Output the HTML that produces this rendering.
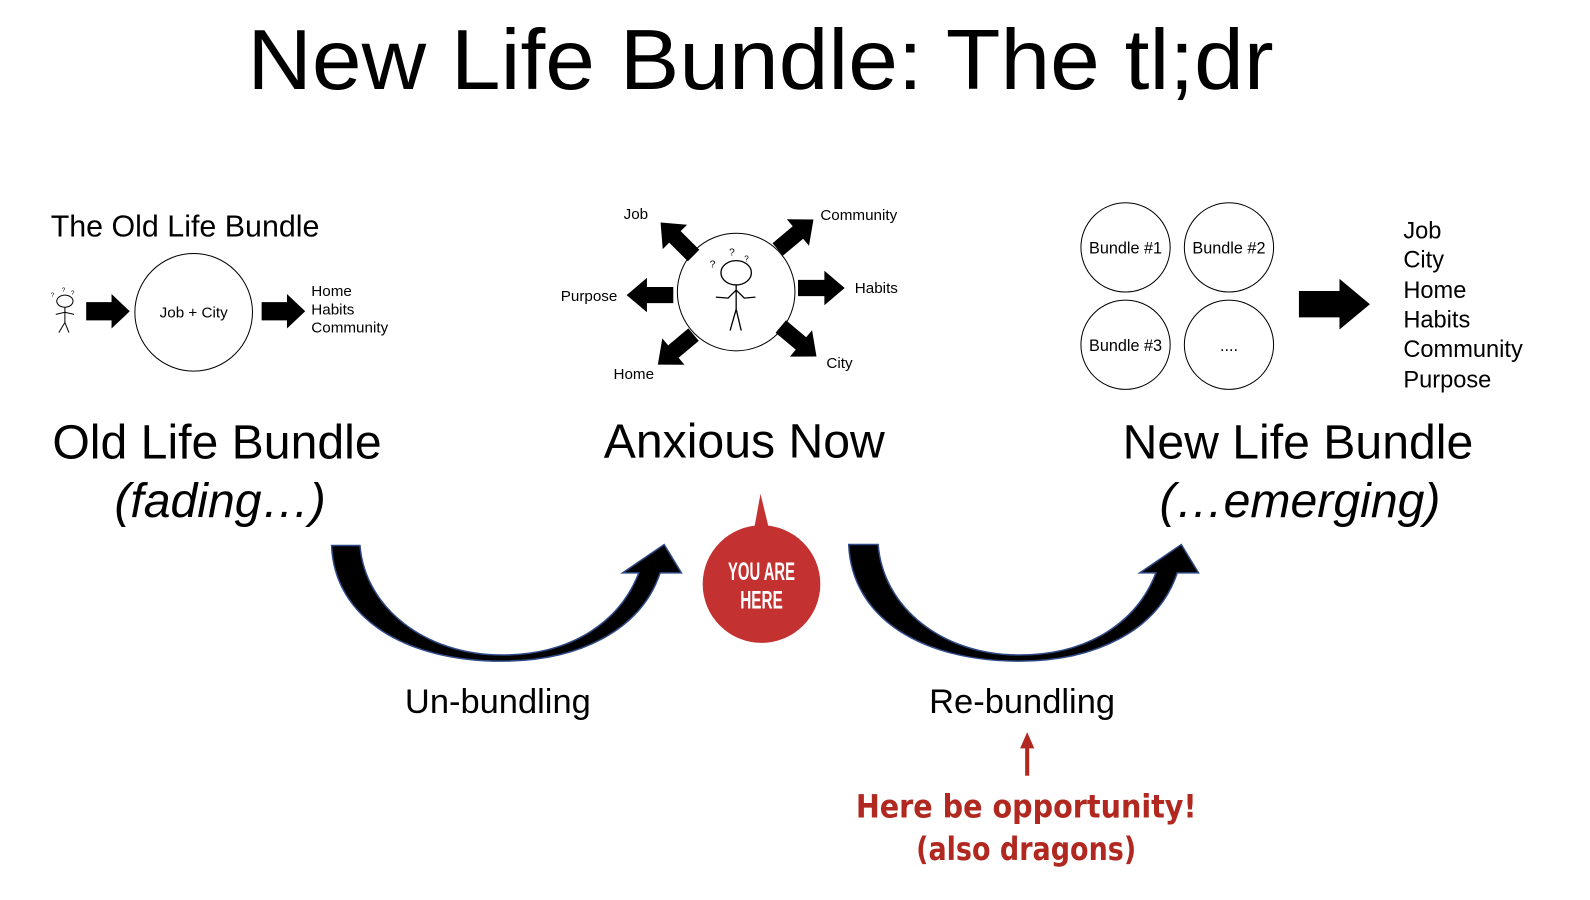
<!DOCTYPE html>
<html><head><meta charset="utf-8"><style>
html,body{margin:0;padding:0;background:#fff;}
svg{display:block;}
text{font-family:"Liberation Sans",sans-serif;fill:#000;}
</style></head><body>
<svg width="1590" height="900" viewBox="0 0 1590 900" xmlns="http://www.w3.org/2000/svg">
<defs>
<polygon id="ar" points="0,-8 26,-8 26,-17 46,0 26,17 26,8 0,8" fill="#000"/>
</defs>
<g transform="scale(1.014)">
<text x="750" y="88" font-size="84" text-anchor="middle" textLength="1012" lengthAdjust="spacingAndGlyphs">New Life Bundle: The tl;dr</text>

<text x="50" y="233" font-size="30">The Old Life Bundle</text>
<g stroke="#000" stroke-width="1" fill="none">
<ellipse cx="64" cy="297" rx="8" ry="6"/>
<path d="M64,303 L64,318 M58,328 L64,318 L68,328 M55,310 L64,308 L73,310"/>
</g>
<text x="50" y="293" font-size="6">?</text><text x="61" y="288" font-size="6">?</text><text x="70" y="291" font-size="6">?</text>
<polygon points="85,298 110,298 110,290 128,307 110,324 110,316 85,316" fill="#000"/>
<circle cx="191" cy="308" r="58" fill="none" stroke="#000" stroke-width="1"/>
<text x="191" y="313" font-size="15" text-anchor="middle">Job + City</text>
<polygon points="258,298 283,298 283,290 301,307 283,324 283,316 258,316" fill="#000"/>
<text x="307" y="292" font-size="15">Home</text>
<text x="307" y="310" font-size="15">Habits</text>
<text x="307" y="328" font-size="15">Community</text>

<circle cx="726" cy="288" r="58" fill="none" stroke="#000" stroke-width="1"/>
<g stroke="#000" stroke-width="1.3" fill="none">
<ellipse cx="726" cy="269" rx="15" ry="12"/>
<path d="M726,281 L726,305 L720,326 M726,305 L731,326 M706,293 L718,294 L726,286 L734,294 L745,293"/>
</g>
<text x="700" y="264" font-size="10">?</text><text x="719" y="252" font-size="10">?</text><text x="734" y="258" font-size="8">?</text>
<use href="#ar" transform="translate(684,252) rotate(-135)"/>
<use href="#ar" transform="translate(767,246) rotate(-40)"/>
<use href="#ar" transform="translate(664,291) rotate(180)"/>
<use href="#ar" transform="translate(787,284)"/>
<use href="#ar" transform="translate(684,330) rotate(140)"/>
<use href="#ar" transform="translate(770,322) rotate(40)"/>
<text x="615" y="216" font-size="15">Job</text>
<text x="809" y="217" font-size="15">Community</text>
<text x="553" y="297" font-size="15">Purpose</text>
<text x="843" y="289" font-size="15">Habits</text>
<text x="605" y="374" font-size="15">Home</text>
<text x="815" y="363" font-size="15">City</text>

<g fill="none" stroke="#000" stroke-width="1">
<circle cx="1110" cy="244" r="44"/><circle cx="1212" cy="244" r="44"/>
<circle cx="1110" cy="340" r="44"/><circle cx="1212" cy="340" r="44"/>
</g>
<text x="1110" y="250" font-size="16" text-anchor="middle">Bundle #1</text>
<text x="1212" y="250" font-size="16" text-anchor="middle">Bundle #2</text>
<text x="1110" y="346" font-size="16" text-anchor="middle">Bundle #3</text>
<text x="1212" y="346" font-size="16" text-anchor="middle">....</text>
<polygon points="1281,287 1321,287 1321,275 1351,300 1321,325 1321,313 1281,313" fill="#000"/>
<g font-size="23.3">
<text x="1384" y="235">Job</text><text x="1384" y="264">City</text><text x="1384" y="294">Home</text>
<text x="1384" y="323">Habits</text><text x="1384" y="352">Community</text><text x="1384" y="382">Purpose</text>
</g>

<text x="214" y="452" font-size="47.5" text-anchor="middle">Old Life Bundle</text>
<text x="217" y="510" font-size="47.5" font-style="italic" text-anchor="middle">(fading…)</text>
<text x="734" y="451" font-size="47.5" text-anchor="middle">Anxious Now</text>
<text x="1280" y="452" font-size="47.5" text-anchor="middle">New Life Bundle</text>
<text x="1282" y="510" font-size="47.5" font-style="italic" text-anchor="middle">(…emerging)</text>

<g fill="#000" stroke="#2f4a86" stroke-width="1.5">
<path d="M327,538 L355,538 C360,600 420,646 495,646 C565,646 612,612 630,565 L614,565 L655,537 L672,565 L651,565 C632,622 570,652 495,652 C400,652 330,610 327,538 Z"/>
<path d="M837,537 L866,537 C871,600 930,646 1005,646 C1075,646 1122,612 1140,565 L1124,565 L1165,537 L1182,565 L1161,565 C1142,622 1080,652 1005,652 C910,652 840,610 837,537 Z"/>
</g>

<polygon points="744,520 750,487 758,520" fill="#c43131"/>
<circle cx="751" cy="576" r="58" fill="#c43131"/>
<text x="751" y="572" font-size="25" font-weight="bold" text-anchor="middle" textLength="66" lengthAdjust="spacingAndGlyphs" style="fill:#fff">YOU ARE</text>
<text x="751" y="600" font-size="25" font-weight="bold" text-anchor="middle" textLength="42" lengthAdjust="spacingAndGlyphs" style="fill:#fff">HERE</text>

<text x="491" y="703" font-size="34" text-anchor="middle">Un-bundling</text>
<text x="1008" y="703" font-size="34" text-anchor="middle">Re-bundling</text>

<line x1="1013" y1="765" x2="1013" y2="736" stroke="#b0281f" stroke-width="4"/>
<polygon points="1006,738 1013,722 1020,738" fill="#b0281f"/>
<text x="1012" y="806" font-size="32" font-weight="bold" text-anchor="middle" textLength="336" lengthAdjust="spacingAndGlyphs" style="font-family:'DejaVu Sans',sans-serif;fill:#b0281f">Here be opportunity!</text>
<text x="1012" y="848" font-size="32" font-weight="bold" text-anchor="middle" textLength="217" lengthAdjust="spacingAndGlyphs" style="font-family:'DejaVu Sans',sans-serif;fill:#b0281f">(also dragons)</text>
</g>
</svg>
</body></html>
